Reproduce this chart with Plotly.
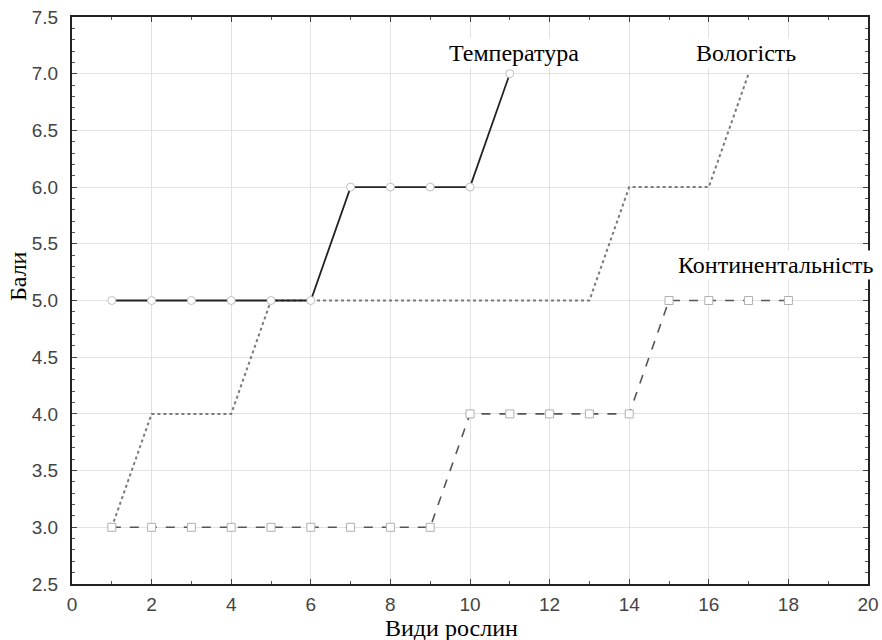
import plotly.graph_objects as go

temp_x = [1, 2, 3, 4, 5, 6, 7, 8, 9, 10, 11]
temp_y = [5, 5, 5, 5, 5, 5, 6, 6, 6, 6, 7]

vol_x = [1, 2, 3, 4, 5, 6, 7, 8, 9, 10, 11, 12, 13, 14, 15, 16, 17]
vol_y = [3, 4, 4, 4, 5, 5, 5, 5, 5, 5, 5, 5, 5, 6, 6, 6, 7]

cont_x = [1, 2, 3, 4, 5, 6, 7, 8, 9, 10, 11, 12, 13, 14, 15, 16, 17, 18]
cont_y = [3, 3, 3, 3, 3, 3, 3, 3, 3, 4, 4, 4, 4, 4, 5, 5, 5, 5]

labels = ["Температура", "Вологість", "Континентальність"]
label_x = [11.1, 16.93, 17.69]
label_y = [7.18, 7.18, 5.31]

x_ticks = [0, 2, 4, 6, 8, 10, 12, 14, 16, 18, 20]
y_ticks = [2.5, 3.0, 3.5, 4.0, 4.5, 5.0, 5.5, 6.0, 6.5, 7.0, 7.5]

x_title = "Види рослин"
y_title = "Бали"

SERIF = "Liberation Serif"
SANS = "Liberation Sans"

fig = go.Figure()
fig.add_trace(go.Scatter(
    x=vol_x, y=vol_y, mode="lines",
    line=dict(color="#7a7a7a", width=2, dash="dot"),
    showlegend=False))
fig.add_trace(go.Scatter(
    x=cont_x, y=cont_y, mode="lines+markers",
    line=dict(color="#555555", width=1.6, dash="dash"),
    marker=dict(symbol="square", size=8, color="white",
                line=dict(color="#b0b0b0", width=1)),
    showlegend=False))
fig.add_trace(go.Scatter(
    x=temp_x, y=temp_y, mode="lines+markers",
    line=dict(color="#222222", width=1.8),
    marker=dict(symbol="circle", size=8, color="white",
                line=dict(color="#c0c0c0", width=1)),
    showlegend=False))

for t, x, y in zip(labels, label_x, label_y):
    fig.add_annotation(x=x, y=y, text=t, showarrow=False, bgcolor="white",
                       font=dict(family=SERIF, size=24, color="black"))

fig.add_annotation(xref="paper", yref="paper", x=(451 - 72) / 796, y=-(628 - 584) / 567,
                   text=x_title, showarrow=False, xanchor="center", yanchor="middle",
                   font=dict(family=SERIF, size=24, color="black"))
fig.add_annotation(xref="paper", yref="paper", x=-(72 - 18) / 796, y=(584 - 276) / 567,
                   text=y_title, showarrow=False, textangle=-90,
                   xanchor="center", yanchor="middle",
                   font=dict(family=SERIF, size=24, color="black"))

fig.update_xaxes(range=[0, 20], tickvals=x_ticks,
                 ticktext=[str(v) for v in x_ticks],
                 showgrid=True, gridcolor="#e2e2e2", gridwidth=1,
                 showline=True, linecolor="#222222", linewidth=2, mirror="ticks",
                 ticks="inside", ticklen=5, tickcolor="#444444",
                 minor=dict(dtick=1, ticks="inside", ticklen=3, tickcolor="#555555", showgrid=False),
                 zeroline=False, ticklabelstandoff=2, automargin=False,
                 tickfont=dict(family=SANS, size=19, color="#444444"))
fig.update_yaxes(range=[2.5, 7.5], tickvals=y_ticks,
                 ticktext=[f"{v:.1f}" for v in y_ticks],
                 showgrid=True, gridcolor="#e2e2e2", gridwidth=1,
                 showline=True, linecolor="#222222", linewidth=2, mirror="ticks",
                 ticks="inside", ticklen=5, tickcolor="#444444",
                 minor=dict(dtick=0.1, ticks="inside", ticklen=3, tickcolor="#555555", showgrid=False),
                 zeroline=False, ticklabelstandoff=8, automargin=False,
                 tickfont=dict(family=SANS, size=19, color="#444444"))

fig.update_layout(width=882, height=640,
                  margin=dict(l=72, r=14, t=17, b=56),
                  plot_bgcolor="white", paper_bgcolor="white")

fig.write_html("out.html")
